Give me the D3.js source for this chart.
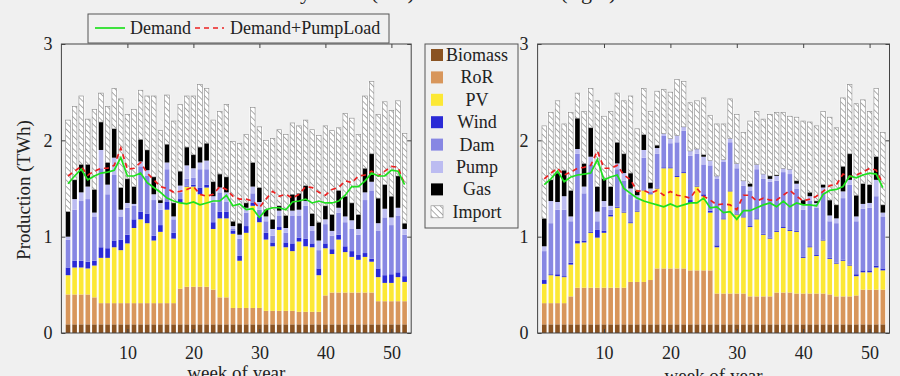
<!DOCTYPE html>
<html>
<head>
<meta charset="utf-8">
<script src="https://cdn.jsdelivr.net/npm/d3@7"></script>
<style>
  body { margin: 0; background: #f0f0f0; }
  svg { display: block; font-family: "Liberation Serif", "DejaVu Serif", serif; }
</style>
</head>
<body>
<svg id="chart" width="900" height="376"></svg>
<script>
// ---- data (TWh per week) ----
const weeks = [1,2,3,4,5,6,7,8,9,10,11,12,13,14,15,16,17,18,19,20,21,22,23,24,25,26,
  27,28,29,30,31,32,33,34,35,36,37,38,39,40,41,42,43,44,45,46,47,48,49,50,51,52];
const xTicks = [10, 20, 30, 40, 50];
const yTicks = [0, 1, 2, 3];
const layerNames = ["Biomass", "RoR", "PV", "Wind", "Dam", "Pump", "Gas", "Import"];
const layerColors = ["#8a5322", "#d8965b", "#fce835", "#2a2ad6", "#8787e3", "#bcbcf1", "#000000", "url(#hatch)"];
const lineNames = ["Demand", "Demand+PumpLoad"];

// left panel
const leftBiomass = [.09,.09,.09,.09,.09,.09,.09,.09,.09,.09,.09,.09,.09,.09,.09,.09,.09,.09,.09,.09,.09,.09,.09,.09,.09,.09,
  .09,.09,.09,.09,.09,.09,.09,.09,.09,.09,.09,.09,.09,.09,.09,.09,.09,.09,.09,.09,.09,.09,.09,.09,.09,.09];
const leftRoR = [.31,.31,.31,.31,.28,.22,.22,.22,.22,.22,.22,.22,.22,.22,.22,.22,.22,.37,.39,.39,.39,.39,.36,.28,.28,.17,
  .17,.17,.17,.17,.14,.14,.14,.14,.14,.13,.13,.13,.13,.30,.33,.33,.33,.33,.33,.33,.33,.24,.24,.24,.24,.24];
const leftPV = [.20,.28,.28,.27,.33,.47,.47,.58,.55,.62,.78,.87,.83,.65,.74,.97,.67,.89,1.04,1.04,.96,1.03,.63,.82,.82,.77,
  .49,.78,1.06,.89,.74,.67,.84,.66,.62,.73,.68,.67,.38,.49,.40,.55,.42,.37,.34,.37,.32,.25,.19,.19,.25,.20];
const leftWind = [.08,.07,.07,.07,.05,.11,.10,.07,.11,.09,.09,.08,.10,.05,.07,.08,.06,.04,.01,.02,.07,.03,.07,.07,.07,.03,
  .05,.07,.03,.06,.07,.04,.03,.05,.08,.04,.08,.04,.07,.05,.05,.05,.06,.06,.05,.04,.03,.09,.08,.09,.05,.06];
const leftDam = [.29,.53,.62,.65,.46,.82,.56,.68,.24,.28,.14,.47,.39,.37,.16,.34,.14,.07,.07,.07,.19,.16,.20,.20,.10,.02,
  .18,.14,.10,.07,.12,.07,.12,.10,.29,.23,.34,.13,.19,.20,.14,.23,.25,.23,.21,.55,.71,.39,.60,.51,.59,.43];
const leftPump = [.03,.11,.09,.13,.04,.19,.10,.18,.07,.05,.02,.05,.06,.06,.07,.07,.03,.07,.14,.10,.07,.09,.07,.05,.10,.03,
  .04,.05,.07,.08,.05,.07,.05,.05,.05,.06,.05,.05,.10,.05,.05,.05,.06,.09,.06,.08,.09,.08,.09,.08,.08,.06];
const leftGas = [.26,.20,.29,.23,.24,.29,.23,.30,.23,.25,.18,.23,.21,.18,.03,.19,.14,.15,.19,.14,.16,.18,.15,.14,.16,.05,
  .12,.05,.25,.15,.07,.10,.05,.13,.17,.17,.16,.13,.19,.14,.17,.18,.21,.18,.15,.25,.29,.26,.25,.22,.33,.06];
const leftImport = [.95,.76,.71,.47,.83,.30,.58,.42,.92,.67,.80,.51,.56,.84,.72,.51,.85,.69,.53,.61,.65,.57,.64,.65,.75,.83,
  .83,.71,.57,.63,.72,.84,.79,.84,.74,.70,.68,.87,.90,.83,.87,.65,.86,.88,.83,.75,.75,.87,.86,.89,.78,.93];
const leftDemand = [1.55,1.63,1.70,1.59,1.63,1.66,1.67,1.69,1.82,1.63,1.63,1.66,1.56,1.51,1.46,1.40,1.37,1.35,1.34,1.36,
  1.33,1.35,1.37,1.37,1.43,1.32,1.34,1.28,1.29,1.20,1.28,1.30,1.30,1.28,1.36,1.37,1.39,1.35,1.37,1.35,1.35,1.37,1.43,
  1.52,1.52,1.58,1.66,1.63,1.63,1.69,1.68,1.54];
const leftDemandPump = [1.63,1.68,1.73,1.64,1.68,1.71,1.71,1.74,1.92,1.70,1.71,1.77,1.66,1.59,1.52,1.50,1.46,1.47,1.49,
  1.52,1.44,1.42,1.44,1.52,1.49,1.42,1.39,1.39,1.37,1.30,1.39,1.47,1.42,1.44,1.40,1.44,1.52,1.51,1.46,1.43,1.49,1.51,
  1.58,1.56,1.63,1.64,1.68,1.63,1.68,1.73,1.72,1.54];

// right panel
const rightBiomass = [.09,.09,.09,.09,.09,.09,.09,.09,.09,.09,.09,.09,.09,.09,.09,.09,.09,.09,.09,.09,.09,.09,.09,.09,.09,.09,
  .09,.09,.09,.09,.09,.09,.09,.09,.09,.09,.09,.09,.09,.09,.09,.09,.09,.09,.09,.09,.09,.09,.09,.09,.09,.09];
const rightRoR = [.22,.22,.22,.22,.29,.38,.38,.38,.38,.38,.38,.38,.38,.44,.44,.44,.46,.58,.58,.58,.58,.58,.56,.56,.56,.56,
  .32,.32,.32,.32,.32,.29,.29,.29,.29,.33,.33,.33,.32,.32,.32,.32,.32,.31,.29,.29,.29,.30,.36,.36,.36,.36];
const rightPV = [.20,.29,.28,.27,.33,.46,.47,.57,.52,.57,.74,.83,.78,.61,.73,.95,.89,.83,1.04,1.04,.95,.99,.70,.87,.77,.60,
  .48,.77,1.06,.82,.79,.72,.80,.64,.60,.63,.67,.64,.64,.37,.48,.39,.55,.37,.34,.37,.32,.20,.18,.18,.23,.20];
const rightWind = [.04,.01,.02,.01,.02,.03,.02,.01,.08,.02,.02,.01,.01,.01,.01,.01,.01,.01,.01,.01,.01,.01,.03,.01,.02,.02,
  .02,.01,.01,.01,.01,.01,.01,.01,.01,.01,.01,.01,.01,.01,.01,.01,.01,.01,.01,.01,.01,.02,.02,.02,.02,.02];
const rightDam = [.30,.53,.67,.69,.43,.90,.49,.70,.09,.25,.05,.39,.32,.29,.11,.33,.02,.35,.33,.25,.35,.43,.46,.33,.31,.47,
  .69,.59,.50,.47,.32,.37,.51,.57,.58,.52,.57,.58,.44,.49,.47,.49,.49,.38,.41,.64,.83,.55,.64,.65,.72,.54];
const rightPump = [.05,.23,.08,.14,.05,.05,.07,.08,.10,.06,.04,.06,.08,.06,.05,.08,.03,.06,.02,.05,.07,.04,.05,.05,.08,.05,
  .03,.02,.04,.05,.05,.04,.05,.05,.03,.05,.04,.05,.05,.05,.05,.05,.05,.06,.05,.07,.05,.05,.05,.05,.17,.04];
const rightGas = [.29,.22,.30,.27,.27,.32,.24,.30,.26,.23,.20,.22,.20,.16,.05,.16,.06,.03,0,0,0,0,0,0,.02,0,
  0,0,0,0,0,.03,0,0,.03,.01,0,0,.03,.05,.04,.02,.03,.16,.14,.26,.27,.22,.21,.19,.24,.08];
const rightImport = [.96,.70,.75,.48,.81,.26,.54,.41,.89,.65,.78,.51,.55,.80,.64,.48,.74,.56,.46,.48,.58,.47,.50,.50,.59,.47,
  .54,.37,.41,.51,.50,.65,.55,.57,.64,.65,.58,.55,.66,.82,.73,.78,.76,.86,.80,.71,.72,.95,.87,.76,.71,.75];
const rightDemand = [1.54,1.60,1.68,1.57,1.62,1.64,1.65,1.66,1.80,1.59,1.62,1.64,1.50,1.45,1.40,1.37,1.35,1.33,1.31,1.34,
  1.31,1.33,1.35,1.35,1.40,1.30,1.31,1.25,1.26,1.18,1.27,1.27,1.30,1.33,1.35,1.31,1.37,1.31,1.35,1.33,1.33,1.32,1.44,
  1.48,1.49,1.52,1.63,1.61,1.64,1.66,1.65,1.51];
const rightDemandPump = [1.60,1.66,1.71,1.64,1.67,1.71,1.72,1.74,1.89,1.71,1.71,1.74,1.64,1.59,1.47,1.48,1.45,1.48,1.43,
  1.47,1.43,1.42,1.40,1.50,1.42,1.38,1.33,1.34,1.33,1.28,1.43,1.43,1.37,1.40,1.38,1.38,1.43,1.48,1.42,1.37,1.39,1.42,
  1.47,1.53,1.54,1.65,1.62,1.64,1.67,1.71,1.69,1.55];

const svg = d3.select("#chart");

// hatch for imports
const defs = svg.append("defs");
const pat = defs.append("pattern")
  .attr("id", "hatch").attr("patternUnits", "userSpaceOnUse")
  .attr("width", 4.5).attr("height", 4.5)
  .attr("patternTransform", "rotate(-45)");
pat.append("rect").attr("width", 4.5).attr("height", 4.5).attr("fill", "#fff");
pat.append("line").attr("x1", 0).attr("y1", 0).attr("x2", 0).attr("y2", 4.5)
  .attr("stroke", "#333").attr("stroke-width", 0.8);

// title, cut off at the top edge as in the original
svg.append("text").attr("x", 160).attr("y", -1).attr("font-size", 22).attr("fill", "#222")
  .text("Production today: Base (left) and Scenario B (right)");

function drawPanel(x0, x1, layers, demand, demandPump, labelY) {
  const x = d3.scaleLinear().domain([0, 53]).range([x0, x1]);
  const y = d3.scaleLinear().domain([0, 3]).range([333, 44]);
  const step = x(1) - x(0);
  const bw = step * 0.7;

  const rows = weeks.map((w, i) => {
    const r = { week: w };
    layerNames.forEach((k, j) => { r[k] = layers[j][i]; });
    return r;
  });
  const series = d3.stack().keys(layerNames)(rows);
  const g = svg.append("g");

  // white bar backing gives the gaps between bars
  g.append("g").attr("fill", "#fff")
    .selectAll("rect").data(series[series.length - 1]).join("rect")
    .attr("x", d => x(d.data.week) - step / 2)
    .attr("width", step)
    .attr("y", d => y(d[1]))
    .attr("height", d => y(0) - y(d[1]));

  series.forEach((s, j) => {
    const isImport = layerNames[j] === "Import";
    g.append("g").attr("fill", layerColors[j])
      .attr("stroke", isImport ? "#888" : "none")
      .attr("stroke-width", isImport ? 0.6 : 0)
      .selectAll("rect").data(s).join("rect")
      .attr("x", d => x(d.data.week) - bw / 2)
      .attr("width", bw)
      .attr("y", d => y(d[1]))
      .attr("height", d => Math.max(0, y(d[0]) - y(d[1])));
  });

  const line = d3.line().x((d, i) => x(weeks[i])).y(d => y(d));
  g.append("path").datum(demandPump).attr("d", line)
    .attr("fill", "none").attr("stroke", "#ec2020").attr("stroke-width", 1.7)
    .attr("stroke-dasharray", "5,4");
  g.append("path").datum(demand).attr("d", line)
    .attr("fill", "none").attr("stroke", "#1fe01f").attr("stroke-width", 1.7);

  // axes with inward ticks
  const styleAxis = sel => {
    sel.select(".domain").remove();
    sel.selectAll("line").attr("stroke", "#444");
    sel.selectAll("text").attr("font-size", 18).attr("fill", "#222")
      .attr("font-family", "'Liberation Serif', serif");
  };
  g.append("g").attr("transform", `translate(0,${y(0)})`)
    .call(d3.axisBottom(x).tickValues(xTicks).tickSizeInner(-4).tickSizeOuter(0).tickPadding(13))
    .call(styleAxis);
  g.append("g").attr("transform", `translate(0,${y(3)})`)
    .call(d3.axisTop(x).tickValues(xTicks).tickSizeInner(-4).tickSizeOuter(0).tickFormat(""))
    .call(styleAxis);
  g.append("g").attr("transform", `translate(${x0},0)`)
    .call(d3.axisLeft(y).tickValues(yTicks).tickFormat(d3.format("d"))
      .tickSizeInner(-4).tickSizeOuter(0).tickPadding(9))
    .call(styleAxis);
  g.append("g").attr("transform", `translate(${x1},0)`)
    .call(d3.axisRight(y).tickValues(yTicks).tickSizeInner(-4).tickSizeOuter(0).tickFormat(""))
    .call(styleAxis);

  g.append("rect").attr("x", x0).attr("y", y(3)).attr("width", x1 - x0).attr("height", y(0) - y(3))
    .attr("fill", "none").attr("stroke", "#444").attr("stroke-width", 1);

  svg.append("text").attr("x", (x0 + x1) / 2).attr("y", labelY)
    .attr("text-anchor", "middle").attr("font-size", 19).attr("fill", "#222")
    .text("week of year");
}

drawPanel(61.4, 411.2,
  [leftBiomass, leftRoR, leftPV, leftWind, leftDam, leftPump, leftGas, leftImport],
  leftDemand, leftDemandPump, 379);
drawPanel(537.6, 889.5,
  [rightBiomass, rightRoR, rightPV, rightWind, rightDam, rightPump, rightGas, rightImport],
  rightDemand, rightDemandPump, 382);

// y label
svg.append("text").attr("transform", "translate(30,190) rotate(-90)")
  .attr("text-anchor", "middle").attr("font-size", 19).attr("fill", "#222")
  .text("Production (TWh)");

// top legend (lines)
const lt = svg.append("g");
lt.append("rect").attr("x", 88).attr("y", 14).attr("width", 301).attr("height", 29)
  .attr("fill", "#f0f0f0").attr("stroke", "#555");
lt.append("line").attr("x1", 95).attr("x2", 125).attr("y1", 28).attr("y2", 28)
  .attr("stroke", "#1fe01f").attr("stroke-width", 1.7);
lt.append("text").attr("x", 130).attr("y", 34).attr("font-size", 18).attr("fill", "#222").text(lineNames[0]);
lt.append("line").attr("x1", 195).attr("x2", 224).attr("y1", 28).attr("y2", 28)
  .attr("stroke", "#ec2020").attr("stroke-width", 1.7).attr("stroke-dasharray", "5,4");
lt.append("text").attr("x", 230).attr("y", 34).attr("font-size", 18).attr("fill", "#222").text(lineNames[1]);

// side legend (sources)
const ls = svg.append("g");
ls.append("rect").attr("x", 425).attr("y", 44).attr("width", 93).attr("height", 184)
  .attr("fill", "#f0f0f0").attr("stroke", "#555");
const items = ls.selectAll("g.item").data(layerNames).join("g")
  .attr("transform", (d, i) => `translate(0,${55 + i * 22.4})`);
items.append("rect").attr("x", 431).attr("y", -6).attr("width", 12).attr("height", 12)
  .attr("fill", (d, i) => layerColors[i])
  .attr("stroke", d => d === "Import" ? "#888" : "none").attr("stroke-width", 0.6);
items.append("text").attr("x", 477).attr("y", 6).attr("text-anchor", "middle")
  .attr("font-size", 18).attr("fill", "#222").text(d => d);
</script>
</body>
</html>
